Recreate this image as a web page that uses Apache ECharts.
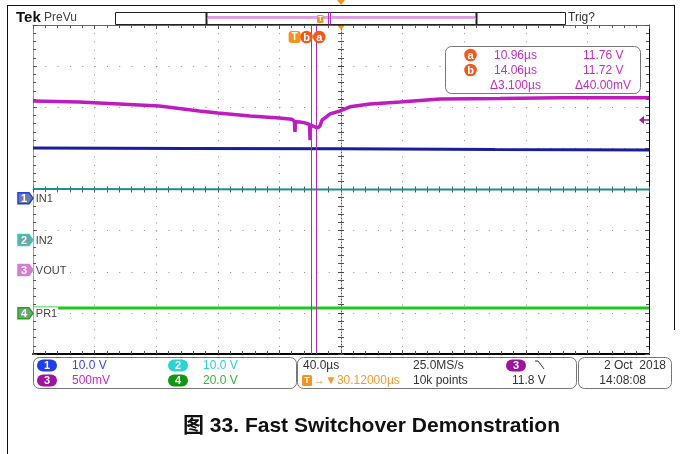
<!DOCTYPE html>
<html>
<head>
<meta charset="utf-8">
<script src="https://cdn.jsdelivr.net/npm/echarts@6/dist/echarts.min.js"></script>
<style>
html,body{margin:0;padding:0;background:#fff;}
#chart{width:681px;height:454px;}
</style>
</head>
<body>
<div id="chart"></div>
<script>
// ---------------- data ----------------
// horizontal: microseconds relative to screen centre (40 us/div, 10 div)
const timeMin = -200, timeMax = 200, timePerDiv = 40;
// vertical: graticule divisions (8 div)
const divMin = -4, divMax = 4;

// CH3 VOUT (500 mV/div)
const ch3Time = [-200,-170,-144,-118,-92,-80,-59,-40,-32,-30.3,-29.9,-29.5,-26.6,-23.4,-20.4,-20.1,-19.8,-16.9,-14.9,-13.6,-12.3,-9.7,-7.1,-0.6,5.8,18.8,38.3,64.3,103,142,200];
const ch3Div  = [2.15,2.13,2.08,2.03,1.91,1.86,1.79,1.74,1.71,1.66,1.40,1.65,1.64,1.62,1.58,1.20,1.57,1.52,1.50,1.55,1.69,1.76,1.84,1.91,2.01,2.08,2.13,2.20,2.21,2.23,2.23];
// CH1 IN1 (10 V/div)
const ch1Time = [-200,-100,0,100,200];
const ch1Div  = [1.01,1.00,0.99,0.97,0.96];
// CH2 IN2 (10 V/div)
const ch2Time = [-200,0,200];
const ch2Div  = [0.01,0.0,0.0];
// CH4 PR1 (20 V/div)
const ch4Time = [-200,0,200];
const ch4Div  = [-2.88,-2.88,-2.88];

const chNumbers   = ['1','2','3','4'];
const chNames     = ['IN1','IN2','VOUT','PR1'];
const chGroundDiv = [-0.21,-1.23,-1.96,-3.01];
const chScales    = ['10.0 V','10.0 V','500mV','20.0 V'];

const triggerPos = -30.12;      // us, trigger point relative to screen centre
const triggerLevelDiv = 1.69;   // CH3 trigger level marker
const cursorA = 10.96, cursorB = 14.06;   // us after trigger
const cursorRows = [['a','10.96\u00b5s','11.76 V'],['b','14.06\u00b5s','11.72 V']];
const cursorDelta = ['\u03943.100\u00b5s','\u039440.00mV'];
const horizText = ['40.0\u00b5s','25.0MS/s','10k points','11.8 V','\u2192\u25bc30.12000\u00b5s'];
const dateText = ['2 Oct  2018','14:08:08'];
const captionText = '\u56fe 33. Fast Switchover Demonstration';

// ---------------- styling ----------------
const C3 = '#bf1cbf', C1 = '#1c1c9c', C2 = '#1e8c8c', C4 = '#1ec81e';
const FONT = '"Liberation Sans", Arial, sans-serif';
const pair = (xs, ys) => xs.map((x, i) => [x, ys[i]]);

function xAx(pos, extra) {
  return Object.assign({
    type: 'value', min: timeMin, max: timeMax, interval: timePerDiv, position: pos,
    axisLabel: {show: false}, splitLine: {show: false},
    axisLine: {show: true, onZero: false, lineStyle: {color: '#555', width: 1}},
    axisTick: {show: true, inside: true, length: 4, lineStyle: {color: '#555'}},
    minorTick: {show: true, splitNumber: 5, length: 3, lineStyle: {color: '#555'}}
  }, extra || {});
}
function yAx(pos, extra) {
  return Object.assign({
    type: 'value', min: divMin, max: divMax, interval: 1, position: pos,
    axisLabel: {show: false}, splitLine: {show: false},
    axisLine: {show: true, onZero: false, lineStyle: {color: '#555', width: 1}},
    axisTick: {show: true, inside: true, length: 4, lineStyle: {color: '#555'}},
    minorTick: {show: true, splitNumber: 5, length: 3, lineStyle: {color: '#555'}}
  }, extra || {});
}

const chart = echarts.init(document.getElementById('chart'), null, {renderer: 'canvas'});
const lineSeries = (name, xs, ys, color, w, extra) => Object.assign({
  name, type: 'line', data: pair(xs, ys), xAxisIndex: 0, yAxisIndex: 0,
  showSymbol: false, symbol: 'none', silent: true,
  lineStyle: {color, width: w}, z: 3
}, extra || {});

chart.setOption({
  animation: false,
  backgroundColor: '#fff',
  grid: {left: 33, top: 25, right: 32, bottom: 100, containLabel: false},
  xAxis: [
    xAx('bottom', {
      axisLine: {show: true, onZero: false, lineStyle: {color: '#000', width: 2}},
      splitLine: {show: true, lineStyle: {color: '#8c8c8c', width: 1, type: [1, 7.225]}}
    }),
    xAx('top', {axisLine: {show: true, onZero: false, lineStyle: {color: '#666', width: 1}}}),
    xAx('bottom', {axisLine: {show: true, onZero: true, onZeroAxisIndex: 0, lineStyle: {color: '#777', width: 1, type: [1, 2]}},
                   axisTick: {show: true, inside: true, length: 3, lineStyle: {color: '#555'}}}),
    xAx('top', {axisLine: {show: true, onZero: true, onZeroAxisIndex: 0, lineStyle: {opacity: 0}},
                axisTick: {show: true, inside: true, length: 3, lineStyle: {color: '#555'}}})
  ],
  yAxis: [
    yAx('left', {
      axisLine: {show: true, onZero: false, lineStyle: {color: '#999', width: 1}},
      splitLine: {show: true, lineStyle: {color: '#8c8c8c', width: 1, type: [1, 11.32]}}
    }),
    yAx('right', {axisLine: {show: true, onZero: false, lineStyle: {color: '#000', width: 1}}}),
    yAx('left', {axisLine: {show: true, onZero: true, onZeroAxisIndex: 0, lineStyle: {color: '#555', width: 1, type: [1, 2]}},
                 axisTick: {show: true, inside: true, length: 3, lineStyle: {color: '#444'}}}),
    yAx('right', {axisLine: {show: true, onZero: true, onZeroAxisIndex: 0, lineStyle: {opacity: 0}},
                  axisTick: {show: true, inside: true, length: 3, lineStyle: {color: '#444'}}})
  ],
  series: [
    lineSeries('CH4', ch4Time, ch4Div, C4, 3),
    lineSeries('CH2', ch2Time, ch2Div, C2, 2),
    lineSeries('CH1', ch1Time, ch1Div, C1, 3),
    lineSeries('CH3', ch3Time, ch3Div, C3, 3.5, {
      markLine: {
        silent: true, symbol: ['none', 'none'], label: {show: false},
        lineStyle: {color: '#b02cc0', width: 1, type: 'solid'},
        data: [{xAxis: triggerPos + cursorA}, {xAxis: triggerPos + cursorB}]
      }
    })
  ]
});

// ---------------- decorations placed via the chart's scales ----------------
const px = (t, d) => chart.convertToPixel({gridIndex: 0}, [t, d]);
const g = [];
const txt = (x, y, text, fill, font, align, z) => g.push({
  type: 'text', z: z || 110, silent: true,
  style: {x, y, text, fill, font: font || ('12px ' + FONT), textAlign: align || 'left', textVerticalAlign: 'middle'}
});
const rrect = (x, y, w, h, r, stroke, fill, z) => g.push({
  type: 'rect', z: z || 100, silent: true,
  shape: {x, y, width: w, height: h, r},
  style: {stroke, fill: fill || 'none', lineWidth: 1}
});
const line = (x1, y1, x2, y2, stroke, w, z) => g.push({
  type: 'line', z: z || 100, silent: true,
  shape: {x1, y1, x2, y2}, style: {stroke, lineWidth: w || 1}
});
const poly = (points, fill, stroke, z) => g.push({
  type: 'polygon', z: z || 105, silent: true,
  shape: {points}, style: {fill, stroke: stroke || 'none', lineWidth: stroke ? 1.5 : 0}
});
const circ = (cx, cy, r, fill, z) => g.push({
  type: 'circle', z: z || 105, silent: true, shape: {cx, cy, r}, style: {fill}
});

// document frame
line(7.5, 5, 7.5, 454, '#111', 1);
line(7, 5.5, 674.5, 5.5, '#111', 1);
line(674.5, 5, 674.5, 330, '#111', 1);

// top status bar
txt(16, 18, 'Tek', '#111', 'bold 15px ' + FONT);
txt(44, 18, 'PreVu', '#444', '12px ' + FONT);
rrect(115.5, 12.5, 450, 12, 0, '#222');
line(206.5, 12, 206.5, 25, '#222', 2);
line(476.5, 12, 476.5, 25, '#222', 2);
line(207, 17, 476, 17, '#c040c0', 1);
line(207, 18.5, 476, 18.5, '#e6a6e6', 1);
line(328.5, 12.5, 328.5, 24.5, '#b030c0', 1);
line(330.5, 12.5, 330.5, 24.5, '#b030c0', 1);
rrect(317, 15, 6.5, 8, 1, 'none', '#f7941d', 106);
txt(320.3, 19.2, 'T', '#fff', 'bold 7px ' + FONT, 'center', 107);
txt(568, 18, 'Trig?', '#333', '12px ' + FONT);

// horizontal position markers
const cx0 = px(0, 0)[0];
poly([[cx0 - 4, 0], [cx0 + 4, 0], [cx0, 5]], '#f7941d');
poly([[cx0 - 3, 26], [cx0 + 3, 26], [cx0, 30]], '#f7941d');

// cursor / trigger labels at top of graticule
const xT = px(triggerPos, 0)[0];
const xA = px(triggerPos + cursorA, 0)[0];
const xB = px(triggerPos + cursorB, 0)[0];
rrect(xT - 6, 31, 12, 12, 3, 'none', '#f7941d', 105);
txt(xT, 37.5, 'T', '#fff', 'bold 10px ' + FONT, 'center', 106);
circ(xA - 5, 37, 6.3, '#f05a1e');
txt(xA - 5, 37.5, 'b', '#fff', 'bold 11px ' + FONT, 'center', 106);
circ(xB + 3, 37, 6.3, '#f05a1e');
txt(xB + 3, 37.5, 'a', '#fff', 'bold 11px ' + FONT, 'center', 106);

// cursor readout box
rrect(445.5, 46.5, 195, 47, 6, '#777', '#fff', 100);
cursorRows.forEach((r, i) => {
  const y = 55.5 + i * 15;
  circ(470.5, y - 0.5, 6.3, '#f05a1e');
  txt(470.5, y, r[0], '#fff', 'bold 11px ' + FONT, 'center', 106);
  txt(494, y, r[1], '#c030c0');
  txt(583, y, r[2], '#c030c0');
});
txt(490, 85.5, cursorDelta[0], '#c030c0');
txt(575, 85.5, cursorDelta[1], '#c030c0');

// trigger level arrow (right edge)
const pTrig = px(timeMax, triggerLevelDiv);
poly([[pTrig[0] - 10, pTrig[1]], [pTrig[0] - 5, pTrig[1] - 4], [pTrig[0] - 5, pTrig[1] + 4]], '#a01ea0');
line(pTrig[0] - 5, pTrig[1], pTrig[0], pTrig[1], '#a01ea0', 1.5);

// channel ground markers and names
const mFill = ['#6d7aa8', '#6aa8a8', '#d27fd2', '#6fa86f'];
const mStroke = ['#1f3fdf', '#39c7c7', '#d27fd2', '#2aa02a'];
chGroundDiv.forEach((d, i) => {
  const p = px(timeMin, d);
  const x = p[0], y = p[1];
  poly([[x - 15, y - 5.5], [x - 4, y - 5.5], [x, y], [x - 4, y + 5.5], [x - 15, y + 5.5]], mFill[i], mStroke[i]);
  txt(x - 9, y + 0.5, chNumbers[i], '#fff', 'bold 11px ' + FONT, 'center', 106);
  g.push({type: 'text', z: 110, silent: true,
    style: {x: x + 0.8, y: y + 0.5, text: chNames[i], fill: '#444', font: '11px ' + FONT,
            textAlign: 'left', textVerticalAlign: 'middle', backgroundColor: '#fff', padding: [1, 1, 1, 2]}});
});

// bottom readout boxes
rrect(33.5, 357.5, 263, 31, 6, '#777', '#fff');
rrect(297.5, 357.5, 279, 31, 6, '#777', '#fff');
rrect(578.5, 357.5, 93, 31, 6, '#777', '#fff');
const pillFill = ['#1f3fe8', '#2ad4d4', '#a012a0', '#149614'];
const scaleFill = ['#3a4ae0', '#30d0d8', '#c030c0', '#3ab43a'];
chScales.forEach((s, i) => {
  const col = i % 2, row = Math.floor(i / 2);
  const x0 = col === 0 ? 37 : 168;
  const y = 365.5 + row * 15;
  rrect(x0, y - 6, 20, 12, 6, 'none', pillFill[i], 105);
  txt(x0 + 10, y + 0.5, chNumbers[i], '#fff', 'bold 11px ' + FONT, 'center', 106);
  txt(x0 + 35, y, s, scaleFill[i]);
});
txt(303, 365.5, horizText[0], '#333');
txt(413, 365.5, horizText[1], '#333');
rrect(506, 359.5, 20, 12, 6, 'none', '#a012a0', 105);
txt(516, 366, '3', '#fff', 'bold 11px ' + FONT, 'center', 106);
g.push({type: 'polyline', z: 106, silent: true, shape: {points: [[535, 361], [538, 361], [544, 369]]}, style: {stroke: '#333', lineWidth: 1}});
rrect(302, 375, 10, 11, 1.5, 'none', '#f7941d', 105);
txt(307, 380.8, 'T', '#fff', 'bold 9px ' + FONT, 'center', 106);
txt(313, 380.5, horizText[4], '#f29b2f', '12px ' + FONT);
txt(413, 380.5, horizText[2], '#333');
txt(512, 380.5, horizText[3], '#333');
txt(666, 365.5, dateText[0], '#333', null, 'right');
txt(646, 380.5, dateText[1], '#333', null, 'right');

// caption
txt(371.5, 426, captionText, '#111', 'bold 21px "Liberation Sans", Arial, "Noto Sans CJK SC", sans-serif', 'center');

chart.setOption({graphic: {elements: g}});
</script>
</body>
</html>
